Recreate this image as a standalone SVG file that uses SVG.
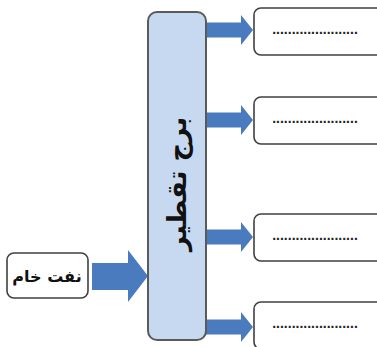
<svg xmlns="http://www.w3.org/2000/svg" width="377" height="347" viewBox="0 0 377 347">
  <style>
    .tower { fill: #c6d9f1; stroke: #5a5a5a; stroke-width: 2; }
    .box { fill: #ffffff; stroke: #404040; stroke-width: 1.6; }
    .arrow { fill: #4a7bbf; }
    .label { font-family: "DejaVu Sans", sans-serif; font-weight: bold; fill: #111; }
    .dots { font-family: "Liberation Sans", sans-serif; font-size: 14px; font-weight: bold; fill: #222; text-anchor: middle; }
  </style>
  <defs>
    <!-- block arrow pointing right, origin at shaft start/centre line -->
    <path id="outArrow" d="M0,-7.5 H35 V-15 L47,0 L35,15 V7.5 H0 Z"/>
  </defs>

  <g id="connectors">
    <path class="arrow" d="M92,263 H128 V250 L148,276 L128,302 V290 H92 Z"/>
    <use href="#outArrow" class="arrow" x="206" y="30"/>
    <use href="#outArrow" class="arrow" x="206" y="120"/>
    <use href="#outArrow" class="arrow" x="206" y="237"/>
    <use href="#outArrow" class="arrow" x="206" y="327"/>
  </g>

  <g id="crude-oil">
    <rect class="box" x="7" y="253" width="81" height="45" rx="7"/>
    <text class="label" x="47" y="282" font-size="16" text-anchor="middle">نفت خام</text>
  </g>

  <g id="tower">
    <rect class="tower" x="148" y="12" width="58" height="328" rx="9"/>
    <text class="label" transform="translate(186,184) rotate(-90)" font-size="26" text-anchor="middle">برج  تقطیر</text>
  </g>

  <g id="product-1">
    <rect class="box" x="254" y="8" width="130" height="47" rx="7"/>
    <text class="dots" x="315" y="34">......................</text>
  </g>
  <g id="product-2">
    <rect class="box" x="254" y="97" width="130" height="47" rx="7"/>
    <text class="dots" x="315" y="123">......................</text>
  </g>
  <g id="product-3">
    <rect class="box" x="254" y="214" width="130" height="47" rx="7"/>
    <text class="dots" x="315" y="240">......................</text>
  </g>
  <g id="product-4">
    <rect class="box" x="254" y="302" width="130" height="47" rx="7"/>
    <text class="dots" x="315" y="328">......................</text>
  </g>
</svg>
